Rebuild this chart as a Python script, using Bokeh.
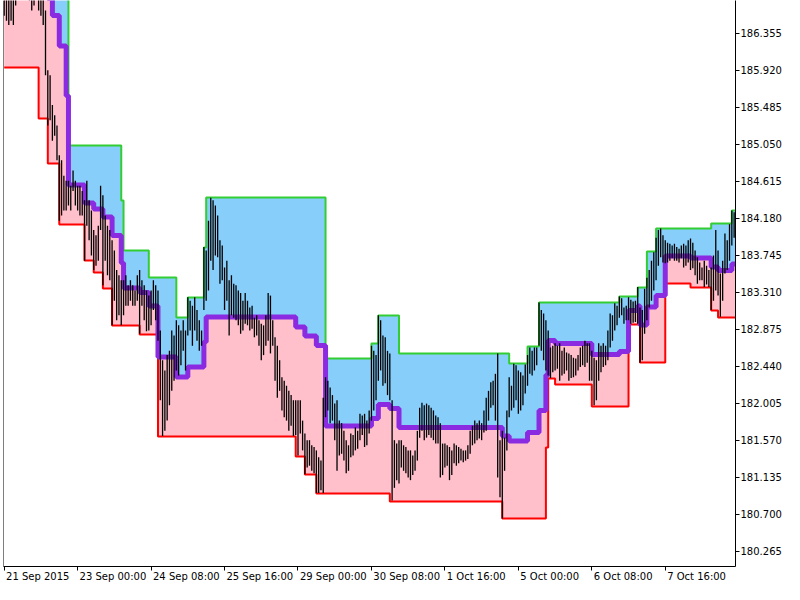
import numpy as np
from bokeh.plotting import figure
from bokeh.models import (Range1d, FixedTicker, PrintfTickFormatter, Span, LinearAxis,
                          CustomJSTickFormatter)
from bokeh.embed import file_html
from bokeh.resources import INLINE

# ---------------- data (hourly bars, index = bar number) ----------------
bar_high = [
    186.97, 186.86, 186.92, 186.80, 186.86, 186.97, 187.09, 187.15, 187.09, 187.03,
    187.09, 186.97, 186.92, 186.86, 186.92, 186.86, 186.80, 186.80, 186.62, 185.92,
    185.86, 185.51, 185.39, 185.27, 184.92, 184.86, 184.68, 184.62, 184.62, 184.56,
    184.74, 184.62, 184.56, 184.56, 184.50, 184.39, 184.62, 184.39, 184.27, 184.04,
    183.98, 184.09, 184.56, 184.45, 184.21, 184.09, 184.04, 183.92, 183.80, 183.57,
    183.51, 183.45, 183.45, 183.51, 183.39, 183.45, 183.39, 183.33, 183.51, 183.57,
    183.45, 183.39, 183.33, 183.27, 183.33, 183.45, 183.39, 183.33, 182.86, 182.51,
    182.39, 182.57, 182.62, 182.86, 182.80, 182.98, 182.92, 182.86, 182.98, 182.86,
    183.25, 183.21, 183.15, 183.25, 183.10, 182.98, 182.86, 183.84, 183.80, 184.15,
    184.42, 184.39, 184.33, 184.21, 183.92, 183.86, 183.60, 183.68, 183.45, 183.51,
    183.41, 183.39, 183.33, 183.30, 183.21, 183.30, 183.21, 183.13, 183.15, 183.01,
    183.04, 182.98, 182.94, 182.92, 183.04, 183.30, 183.27, 182.98, 182.78, 182.68,
    182.51, 182.31, 182.27, 182.21, 182.15, 182.10, 182.04, 182.04, 182.04, 182.04,
    181.80, 181.65, 181.57, 181.57, 181.51, 181.49, 181.45, 181.37, 181.33, 182.07,
    182.31, 182.27, 182.19, 182.10, 182.00, 182.04, 181.80, 181.77, 181.68, 181.57,
    181.51, 181.65, 181.63, 181.72, 181.68, 181.88, 181.86, 181.88, 181.80, 181.92,
    182.68, 182.62, 182.57, 183.04, 182.98, 182.80, 182.78, 182.62, 182.59, 182.04,
    181.57, 181.53, 181.57, 181.57, 181.51, 181.49, 181.45, 181.45, 181.39, 181.45,
    181.68, 181.95, 182.01, 181.98, 182.00, 181.98, 181.95, 181.92, 181.86, 181.84,
    181.77, 181.53, 181.53, 181.51, 181.49, 181.45, 181.53, 181.51, 181.49, 181.47,
    181.45, 181.45, 181.51, 181.68, 181.74, 181.80, 181.77, 181.80, 181.77, 181.92,
    182.07, 182.15, 182.25, 182.27, 182.35, 182.59, 181.57, 181.68, 181.60, 181.92,
    182.31, 182.21, 182.47, 182.45, 182.39, 182.37, 182.33, 182.46, 182.57, 182.66,
    182.62, 182.66, 182.66, 183.19, 183.10, 183.06, 182.98, 182.86, 182.66, 182.68,
    182.71, 182.68, 182.71, 182.62, 182.66, 182.60, 182.59, 182.57, 182.54, 182.53,
    182.57, 182.66, 182.68, 182.74, 182.71, 182.71, 182.62, 182.54, 182.51, 182.71,
    182.68, 182.71, 182.68, 182.86, 183.06, 183.04, 183.18, 183.15, 183.26, 183.24,
    183.13, 183.15, 183.25, 183.22, 183.20, 183.21, 183.37, 183.13, 183.10, 183.35,
    183.48, 183.57, 183.68, 183.78, 183.95, 184.04, 184.06, 183.98, 183.92, 183.89,
    183.88, 183.86, 183.88, 183.84, 183.82, 183.86, 183.88, 183.86, 183.92, 183.94,
    183.89, 183.80, 183.72, 183.66, 183.60, 183.68, 183.62, 183.57, 183.60, 183.74,
    184.04, 183.80, 183.53, 183.68, 184.00, 183.92, 184.11, 184.27, 184.25,
]
bar_low = [
    186.56, 186.50, 186.45, 186.50, 186.45, 186.68, 186.80, 186.86, 186.86, 186.80,
    186.80, 186.74, 186.62, 186.68, 186.80, 186.62, 186.56, 186.45, 185.86, 185.27,
    185.33, 185.09, 185.15, 184.86, 184.15, 184.21, 184.27, 184.27, 184.33, 184.27,
    184.50, 184.33, 184.27, 184.21, 184.21, 183.68, 184.09, 183.92, 183.74, 183.57,
    183.62, 183.68, 184.04, 183.39, 183.68, 183.51, 183.45, 182.92, 183.21, 182.98,
    183.04, 182.92, 183.04, 183.15, 183.15, 183.21, 183.15, 183.15, 183.21, 182.82,
    183.15, 182.98, 182.85, 182.86, 182.92, 183.10, 182.98, 182.74, 182.04, 181.62,
    181.68, 181.80, 181.98, 182.15, 182.27, 182.39, 182.33, 182.45, 182.62, 182.39,
    182.80, 182.86, 182.68, 182.86, 182.74, 182.62, 182.68, 183.10, 183.21, 183.33,
    183.68, 183.57, 183.74, 183.72, 183.41, 183.45, 183.10, 183.21, 182.80, 183.04,
    183.01, 182.98, 182.92, 182.82, 182.86, 182.94, 182.92, 182.86, 182.88, 182.78,
    182.80, 182.68, 182.51, 182.57, 182.68, 182.74, 182.59, 182.68, 182.27, 182.07,
    182.15, 181.92, 181.84, 181.80, 181.68, 181.74, 181.62, 181.63, 181.39, 181.65,
    181.45, 181.17, 181.25, 181.27, 181.21, 181.18, 180.95, 180.95, 180.98, 180.95,
    181.84, 181.92, 181.77, 181.80, 181.57, 181.21, 181.39, 181.41, 181.33, 181.18,
    181.21, 181.37, 181.39, 181.45, 181.47, 181.57, 181.63, 181.49, 181.51, 181.65,
    181.80, 181.92, 182.04, 182.27, 182.39, 182.21, 182.24, 182.10, 182.04, 180.86,
    181.01, 181.10, 181.06, 181.25, 181.21, 181.18, 181.13, 181.10, 181.16, 181.21,
    181.33, 181.60, 181.68, 181.57, 181.60, 181.63, 181.60, 181.57, 181.53, 181.53,
    181.13, 181.16, 181.25, 181.27, 181.10, 181.16, 181.30, 181.27, 181.30, 181.33,
    181.31, 181.33, 181.35, 181.41, 181.51, 181.53, 181.57, 181.59, 181.57, 181.66,
    181.68, 181.80, 181.95, 181.98, 181.80, 181.13, 180.90, 180.65, 181.21, 181.45,
    181.84, 181.92, 181.95, 182.04, 181.88, 181.92, 181.98, 182.12, 182.21, 182.35,
    182.33, 182.39, 182.45, 182.68, 182.62, 182.51, 182.39, 182.33, 182.30, 182.37,
    182.39, 182.41, 182.27, 182.33, 182.35, 182.39, 182.27, 182.30, 182.31, 182.33,
    182.39, 182.43, 182.45, 182.43, 182.48, 182.27, 182.27, 181.98, 182.04, 182.27,
    182.37, 182.43, 182.45, 182.51, 182.66, 182.74, 182.86, 182.92, 183.01, 183.04,
    182.94, 182.98, 182.98, 182.94, 182.95, 182.96, 182.94, 182.48, 182.51, 182.82,
    182.98, 183.13, 183.21, 183.33, 183.45, 183.62, 183.72, 183.66, 183.65, 183.66,
    183.68, 183.71, 183.68, 183.68, 183.66, 183.71, 183.60, 183.62, 183.66, 183.57,
    183.59, 183.51, 183.41, 183.45, 183.45, 183.37, 183.40, 183.37, 183.10, 183.21,
    183.33, 183.27, 183.02, 183.21, 183.53, 183.57, 183.68, 183.86, 183.95,
]

# channel bands: bar number where a new level starts, and the level
upper_idx = [0, 21, 27, 28, 51, 52, 63, 75, 80, 87, 88, 140, 160, 163, 172,
             220, 228, 233, 268, 276, 280, 284, 308, 317]
upper_val = [188.700, 188.300, 187.130, 185.035, 184.388, 183.800, 183.483, 183.013,
             183.248, 183.836, 184.424, 182.531, 182.707, 183.036, 182.590, 182.472,
             182.672, 183.189, 183.260, 183.366, 183.789, 184.059, 184.118, 184.271]
lower_idx = [0, 15, 19, 24, 35, 39, 43, 47, 59, 67, 127, 131, 136, 168, 217,
             236, 237, 240, 256, 272, 277, 288, 299, 308, 311]
lower_val = [185.952, 185.352, 184.823, 184.106, 183.683, 183.542, 183.354, 182.919,
             182.813, 181.614, 181.379, 181.167, 180.944, 180.850, 180.650, 181.485,
             182.296, 182.225, 181.967, 182.930, 182.484, 183.413, 183.366, 183.095,
             183.013]

x_tick_idx = [0, 32, 64, 96, 128, 160, 192, 224, 256, 288]
x_tick_labels = ["21 Sep 2015", "23 Sep 00:00", "24 Sep 08:00", "25 Sep 16:00",
                 "29 Sep 00:00", "30 Sep 08:00", "1 Oct 16:00", "5 Oct 00:00",
                 "6 Oct 08:00", "7 Oct 16:00"]
y_ticks = [180.265, 180.700, 181.135, 181.570, 182.005, 182.440, 182.875, 183.310,
           183.745, 184.180, 184.615, 185.050, 185.485, 185.920, 186.355]

# ---------------- derived series ----------------
n = len(bar_high)
idx = np.arange(n)


def expand(b_idx, b_val):
    out = np.empty(n)
    for k in range(len(b_idx)):
        end = b_idx[k + 1] if k + 1 < len(b_idx) else n
        out[b_idx[k]:end] = b_val[k]
    return out


upper = expand(upper_idx, upper_val)
lower = expand(lower_idx, lower_val)
middle = (upper + lower) / 2.0

xs = np.append(idx, n)
up_s = np.append(upper, upper[-1])
lo_s = np.append(lower, lower[-1])
mid_s = np.append(middle, middle[-1])

# ---------------- layout ----------------
W, H = 784, 584
BORDER_L, BORDER_R, BORDER_B = 3, 47, 18
x_start, x_end = -0.3, 318.6
y_start, y_end = 180.085, 186.739

FONT = "DejaVu Sans"
FONT_PX = 10

p = figure(width=W, height=H, output_backend="svg", toolbar_location=None,
           title=None, x_range=Range1d(x_start, x_end), y_range=Range1d(y_start, y_end),
           y_axis_location="right", min_border_left=BORDER_L, min_border_top=0,
           min_border_right=BORDER_R, min_border_bottom=BORDER_B,
           background_fill_color="white", border_fill_color="white",
           outline_line_color=None)
p.grid.visible = False

# fills
p.varea_step(x=xs, y1=lo_s, y2=mid_s, step_mode="after", fill_color="#FFC0CB")
p.varea_step(x=xs, y1=mid_s, y2=up_s, step_mode="after", fill_color="#87CEFA")
# band lines
p.step(xs, up_s, mode="after", line_color="#32CD32", line_width=2)
p.step(xs, lo_s, mode="after", line_color="#FF0000", line_width=2)
p.step(xs, mid_s, mode="after", line_color="#8A2BE2", line_width=5)
# price bars
p.segment(x0=idx, y0=bar_low, x1=idx, y1=bar_high, line_color="black", line_width=1.3)

# right price axis
ya = p.yaxis[0]
ya.ticker = FixedTicker(ticks=y_ticks)
ya.formatter = PrintfTickFormatter(format="%.3f")
ya.major_tick_out = 4
ya.major_tick_in = 0
ya.minor_tick_out = 0
ya.minor_tick_in = 0
ya.axis_line_color = "black"
ya.major_tick_line_color = "black"
ya.major_label_standoff = 1
ya.major_label_text_font = FONT
ya.major_label_text_font_size = f"{FONT_PX}px"
ya.major_label_text_color = "black"

# bottom time axis: tick marks only
xa = p.xaxis[0]
xa.ticker = FixedTicker(ticks=x_tick_idx)
xa.major_label_overrides = {t: "" for t in x_tick_idx}
xa.major_label_text_font_size = "1px"
xa.major_label_standoff = 0
xa.major_tick_out = 4
xa.major_tick_in = 0
xa.minor_tick_out = 0
xa.minor_tick_in = 0
xa.axis_line_color = "black"
xa.major_tick_line_color = "black"

# second bottom axis carrying the date texts, each starting just right of its tick
CHAR_EM = {" ": 0.318, ":": 0.337, "S": 0.635, "e": 0.615, "p": 0.635,
           "O": 0.787, "c": 0.550, "t": 0.392}


def text_px(s):
    return sum(CHAR_EM.get(ch, 0.636) for ch in s) * FONT_PX


px_per_bar = (W - BORDER_L - BORDER_R) / (x_end - x_start)
label_centres = [t + (2 + text_px(s) / 2) / px_per_bar
                 for t, s in zip(x_tick_idx, x_tick_labels)]
xb = LinearAxis(ticker=FixedTicker(ticks=label_centres),
                formatter=CustomJSTickFormatter(args=dict(labels=x_tick_labels),
                                                code="return labels[index];"),
                major_tick_out=0, major_tick_in=0, minor_tick_out=0, minor_tick_in=0,
                axis_line_color=None, major_label_standoff=0,
                major_label_text_font=FONT, major_label_text_font_size=f"{FONT_PX}px",
                major_label_text_color="black")
p.add_layout(xb, "below")

# left border of the chart window
p.add_layout(Span(location=x_start, dimension="height", line_color="black", line_width=1))

open("out.html", "w").write(file_html(p, INLINE))
